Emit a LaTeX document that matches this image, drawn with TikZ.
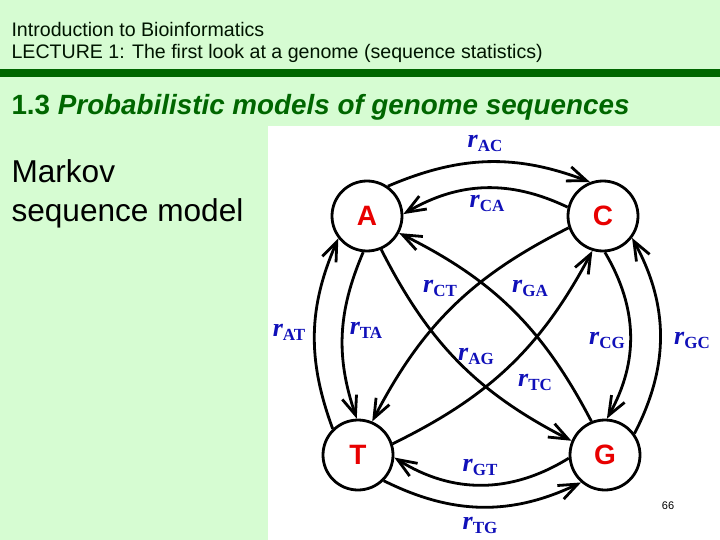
\documentclass[tikz,border=0pt]{standalone}
\usepackage{fontspec}
\setmainfont{Liberation Sans}
\newfontfamily\serifrate{Liberation Serif}
\usetikzlibrary{arrows.meta}
\definecolor{palegreen}{RGB}{214,252,210}
\definecolor{deepgreen}{RGB}{0,102,0}
\definecolor{rateblue}{RGB}{16,16,185}
\definecolor{basered}{RGB}{232,0,0}
\newcommand{\rlab}[1]{{\fontsize{26}{26}\selectfont\bfseries\itshape r}%
  \raisebox{-4pt}{\fontsize{17}{17}\selectfont\bfseries #1}}

\begin{document}
\begin{tikzpicture}[
  x=1pt, y=1pt,
  >={Straight Barb[length=19pt, width=15pt]},
  base/.style={draw, circle, line width=2.8pt, minimum size=70pt, inner sep=0pt,
               fill=white, text=basered, font=\fontsize{28}{28}\selectfont\bfseries},
  trans/.style={->, line width=2.8pt},
  rate/.style={text=rateblue, font=\serifrate, inner sep=0pt},
  hdr/.style={anchor=base west, text=black!80!deepgreen, font=\fontsize{19.6}{19.6}\selectfont}
]
\useasboundingbox (0,0) rectangle (720,-540);
\fill[palegreen] (0,0) rectangle (720,-540);
\fill[white] (268,-126) rectangle (720,-540);
\fill[deepgreen] (0,-69) rectangle (720,-77);
% slide heading
\node[hdr] (course) at (8,-37) {Introduction to Bioinformatics};
\node[hdr] (lecture) at (8,-59) {LECTURE 1: The first look at a genome (sequence statistics)};
\node[anchor=base west, text=deepgreen, font=\fontsize{27.8}{27.8}\selectfont\bfseries] (title) at (8,-115)
  {1.3 \itshape Probabilistic models of genome sequences};
\node[anchor=base west, font=\fontsize{31.6}{31.6}\selectfont] (markov) at (8,-183) {Markov};
\node[anchor=base west, font=\fontsize{31.6}{31.6}\selectfont] (seqmodel) at (8,-222) {sequence model};
% the four bases
\node[base] (A) at (367,-216) {A};
\node[base] (C) at (603,-216) {C};
\node[base] (T) at (358,-455) {T};
\node[base] (G) at (605,-455) {G};
% transitions
\draw[trans] (A.55) to[bend left=22] (C.111);
\draw[trans] (C.166) to[bend right=28] (A.3);
\draw[trans] (T.134) to[bend left=22] (A.218);
\draw[trans] (A.264) to[bend right=21] (T.92);
\draw[trans] (C.273) to[bend left=30] (G.87);
\draw[trans] (G.36) to[bend right=28] (C.323);
\draw[trans] (G.185) to[bend left=32] (T.356);
\draw[trans] (T.315) to[bend right=26] (G.229);
\draw[trans] (G.112) to[bend right=18] (A.332);
\draw[trans] (C.199) to[bend right=18] (T.67);
\draw[trans] (A.293) to[bend right=18] (G.157);
\draw[trans] (T.18) to[bend right=18] (C.253);
% rates
\node[rate] (rAC) at (485,-143) {\rlab{AC}};
\node[rate] (rCA) at (487,-203) {\rlab{CA}};
\node[rate] (rCT) at (440,-288) {\rlab{CT}};
\node[rate] (rGA) at (530,-288) {\rlab{GA}};
\node[rate] (rAT) at (289,-332) {\rlab{AT}};
\node[rate] (rTA) at (366,-330) {\rlab{TA}};
\node[rate] (rAG) at (476,-356) {\rlab{AG}};
\node[rate] (rTC) at (535,-382) {\rlab{TC}};
\node[rate] (rCG) at (607,-340) {\rlab{CG}};
\node[rate] (rGC) at (692,-340) {\rlab{GC}};
\node[rate] (rGT) at (480,-467) {\rlab{GT}};
\node[rate] (rTG) at (480,-525) {\rlab{TG}};
\node[font=\fontsize{11}{11}\selectfont] (page) at (668,-506) {66};
\end{tikzpicture}
\end{document}
